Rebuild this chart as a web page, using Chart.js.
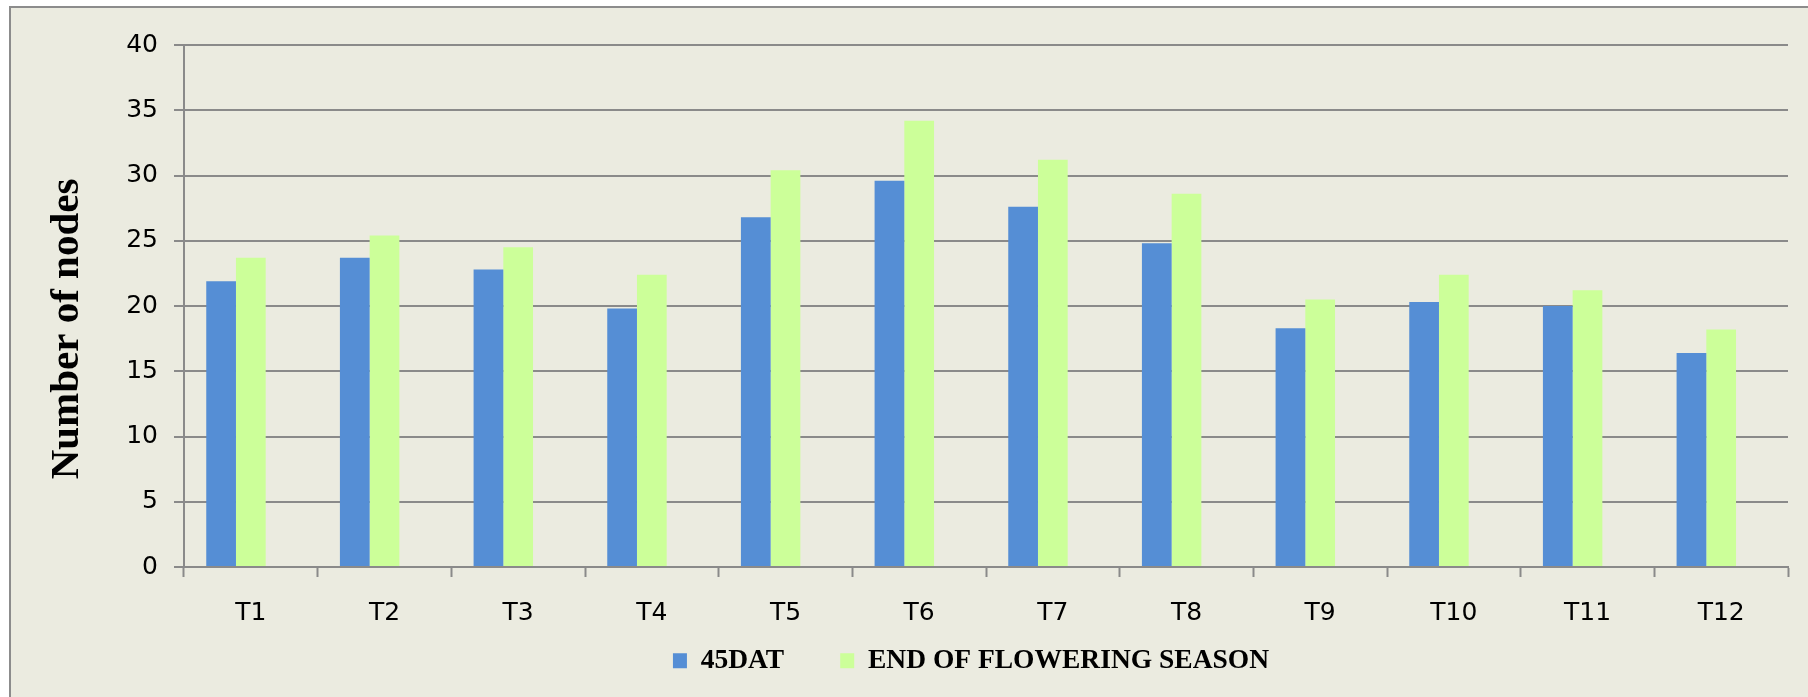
<!DOCTYPE html>
<html>
<head>
<meta charset="utf-8">
<title>Number of nodes</title>
<script src="https://cdn.jsdelivr.net/npm/chart.js@4.4.1/dist/chart.umd.min.js"></script>
<style>
  html, body { margin: 0; padding: 0; background: #ffffff; width: 1808px; height: 697px; overflow: hidden; }
  #frame {
    position: absolute; left: 9px; top: 6px; width: 1812px; height: 700px;
    background: #EBEBE0; border-left: 2px solid #8c8c8c; border-top: 2px solid #8c8c8c;
  }
  #wrap { position: absolute; left: 0; top: 0; width: 1808px; height: 697px; }
</style>
</head>
<body>
<div id="frame"></div>
<div id="wrap"><canvas id="chart" width="1808" height="697"></canvas></div>
<script>
// Treatments on the category axis
const categories = ['T1', 'T2', 'T3', 'T4', 'T5', 'T6', 'T7', 'T8', 'T9', 'T10', 'T11', 'T12'];

// Number of nodes per treatment
const nodes45DAT = [21.9, 23.7, 22.8, 19.8, 26.8, 29.6, 27.6, 24.8, 18.3, 20.3, 20.0, 16.4];
const nodesEndOfFlowering = [23.7, 25.4, 24.5, 22.4, 30.4, 34.2, 31.2, 28.6, 20.5, 22.4, 21.2, 18.2];

// Empty third slot in every group (keeps the two bars left of the tick centre)
const emptySlot = categories.map(() => null);

// Value axis
const yMin = 0;
const yMax = 40;
const yStep = 5;

const seriesNames = ['45DAT', 'END OF FLOWERING SEASON'];
const yAxisTitle = 'Number of nodes';

const gridGray = '#8a8a8a';

// Rotated title for the value axis
const yTitlePlugin = {
  id: 'yTitle',
  afterDraw(chart) {
    const ctx = chart.ctx;
    const cy = (chart.chartArea.top + chart.chartArea.bottom) / 2 + 23;
    ctx.save();
    ctx.translate(67, cy);
    ctx.rotate(-Math.PI / 2);
    ctx.font = 'bold 41px "Liberation Serif", "Times New Roman", serif';
    ctx.fillStyle = '#000000';
    ctx.textAlign = 'center';
    ctx.textBaseline = 'middle';
    ctx.fillText(yAxisTitle, 0, 0);
    ctx.restore();
  }
};

// Pull the legend row up just under the category labels and nudge it left
const legendPlacement = {
  id: 'legendPlacement',
  afterLayout(chart) {
    const lg = chart.legend;
    if (!lg) return;
    lg.top = 591;
    lg.bottom = chart.height;
    lg.height = lg.bottom - lg.top;
    lg.left -= 15;
    lg.right -= 15;
  }
};

new Chart(document.getElementById('chart'), {
  type: 'bar',
  data: {
    labels: categories,
    datasets: [
      { label: seriesNames[0], data: nodes45DAT, backgroundColor: '#558ED5', borderWidth: 0 },
      { label: seriesNames[1], data: nodesEndOfFlowering, backgroundColor: '#CCFF99', borderWidth: 0 },
      { label: '', data: emptySlot, backgroundColor: 'rgba(0,0,0,0)', borderWidth: 0 }
    ]
  },
  options: {
    responsive: false,
    animation: false,
    devicePixelRatio: 1,
    datasets: { bar: { categoryPercentage: 0.667, barPercentage: 1.0 } },
    layout: { padding: { left: 20, right: 20, top: 45, bottom: 0 } },
    plugins: {
      tooltip: { enabled: false },
      title: { display: false },
      legend: {
        display: true,
        position: 'bottom',
        fullSize: false,
        maxHeight: 60,
        labels: {
          filter: (item) => item.datasetIndex < 2,
          boxWidth: 14,
          boxHeight: 15,
          padding: 56,
          color: '#000000',
          font: { family: '"Liberation Serif", "Times New Roman", serif', size: 27.5, weight: 'bold' }
        }
      }
    },
    scales: {
      x: {
        grid: {
          offset: true,
          drawOnChartArea: false,
          drawTicks: true,
          tickLength: 10,
          tickWidth: 2,
          tickColor: gridGray
        },
        border: { display: true, color: gridGray, width: 2 },
        ticks: {
          color: '#000000',
          padding: 21,
          maxRotation: 0,
          autoSkip: false,
          font: { family: '"DejaVu Sans", Verdana, sans-serif', size: 25 }
        },
        afterFit: (scale) => { scale.height = 70; }
      },
      y: {
        min: yMin,
        max: yMax,
        ticks: {
          stepSize: yStep,
          color: '#000000',
          padding: 16,
          font: { family: '"DejaVu Sans", Verdana, sans-serif', size: 25 }
        },
        grid: {
          color: gridGray,
          lineWidth: 2,
          drawTicks: true,
          tickLength: 10
        },
        border: { display: true, color: gridGray, width: 2 },
        afterFit: (scale) => { scale.width = 164; }
      }
    }
  },
  plugins: [yTitlePlugin, legendPlacement]
});
</script>
</body>
</html>
